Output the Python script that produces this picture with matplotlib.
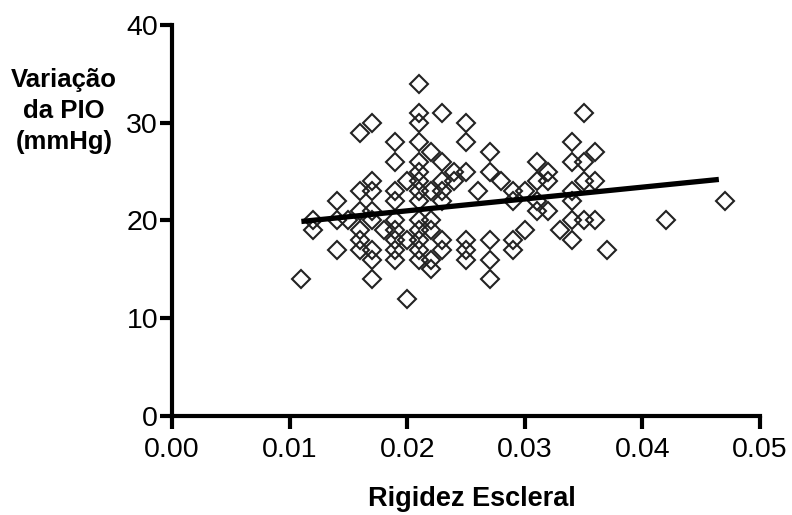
import matplotlib
matplotlib.use("Agg")
import matplotlib.pyplot as plt

plt.rcParams['font.family'] = ['Liberation Sans', 'DejaVu Sans']

# rigidez escleral (x) e variacao da PIO (y)
rigidez = [
    0.011,
    0.012, 0.012,
    0.014, 0.014, 0.014,
    0.015,
    0.016, 0.016, 0.016, 0.016, 0.016, 0.016,
    0.017, 0.017, 0.017, 0.017, 0.017, 0.017, 0.017, 0.017,
    0.018,
    0.019, 0.019, 0.019, 0.019, 0.019, 0.019, 0.019, 0.019, 0.019,
    0.020, 0.020, 0.020,
    0.021, 0.021, 0.021, 0.021, 0.021, 0.021, 0.021, 0.021, 0.021, 0.021, 0.021, 0.021, 0.021, 0.021,
    0.022, 0.022, 0.022, 0.022, 0.022, 0.022,
    0.023, 0.023, 0.023, 0.023, 0.023, 0.023, 0.023,
    0.024, 0.024,
    0.025, 0.025, 0.025, 0.025, 0.025, 0.025,
    0.026,
    0.027, 0.027, 0.027, 0.027, 0.027,
    0.028,
    0.029, 0.029, 0.029, 0.029,
    0.030, 0.030,
    0.031, 0.031, 0.031, 0.031,
    0.032, 0.032, 0.032,
    0.033,
    0.034, 0.034, 0.034, 0.034, 0.034, 0.034,
    0.035, 0.035, 0.035, 0.035,
    0.036, 0.036, 0.036,
    0.037,
    0.042,
    0.047,
]
variacao_pio = [
    14,
    20, 19,
    22, 20, 17,
    20,
    29, 23, 21, 19, 18, 17,
    30, 24, 23, 21, 20, 17, 16, 14,
    19,
    28, 26, 23, 22, 20, 19, 18, 17, 16,
    24, 18, 12,
    34, 31, 30, 28, 26, 25, 24, 23, 22, 20, 19, 18, 17, 16,
    27, 23, 20, 19, 16, 15,
    31, 26, 24, 23, 22, 18, 17,
    25, 24,
    30, 28, 25, 18, 17, 16,
    23,
    27, 25, 18, 16, 14,
    24,
    23, 22, 18, 17,
    23, 19,
    26, 24, 22, 21,
    25, 24, 21,
    19,
    28, 26, 23, 22, 20, 18,
    31, 26, 24, 20,
    27, 24, 20,
    17,
    20,
    22,
]

# reta de regressao (extremos)
reta_x = [0.011, 0.0465]
reta_y = [19.9, 24.2]

xticks = [0.00, 0.01, 0.02, 0.03, 0.04, 0.05]
yticks = [0, 10, 20, 30, 40]

fig = plt.figure(figsize=(7.92, 5.15), dpi=100)
ax = fig.add_axes([0.2172, 0.1922, 0.7424, 0.7593])

ax.plot(rigidez, variacao_pio, linestyle='none', marker='D', markersize=8.8,
        markerfacecolor='none', markeredgecolor='#222222', markeredgewidth=1.5)
ax.plot(reta_x, reta_y, color='black', linewidth=3.8, solid_capstyle='butt')

ax.set_xlim(0, 0.05)
ax.set_ylim(0, 40)
ax.set_xticks(xticks)
ax.set_xticklabels(['%.2f' % v for v in xticks])
ax.set_yticks(yticks)

for s in ['top', 'right']:
    ax.spines[s].set_visible(False)
for s in ['left', 'bottom']:
    ax.spines[s].set_linewidth(3)
ax.tick_params(axis='both', width=3, length=9, labelsize=20.5, direction='out')
ax.tick_params(axis='y', pad=1)
ax.tick_params(axis='x', pad=6)

fig.text(64 / 792, 1 - 111 / 515, 'Variação\nda PIO\n(mmHg)', ha='center', va='center',
         fontsize=18.5, fontweight='bold', multialignment='center', linespacing=1.38)
fig.text(472 / 792, 1 - 499 / 515, 'Rigidez Escleral', ha='center', va='center',
         fontsize=19.5, fontweight='bold')

fig.savefig('out.png', dpi=100)
